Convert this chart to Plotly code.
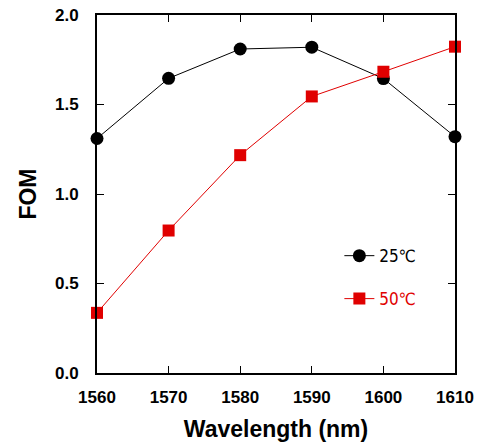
import plotly.graph_objects as go

wavelength = [1560, 1570, 1580, 1590, 1600, 1610]
fom_25 = [1.31, 1.646, 1.81, 1.82, 1.645, 1.32]
fom_50 = [0.336, 0.796, 1.217, 1.545, 1.683, 1.823]
x_ticks = [1560, 1570, 1580, 1590, 1600, 1610]
y_ticks = [0.0, 0.5, 1.0, 1.5, 2.0]
y_tick_labels = ["0.0", "0.5", "1.0", "1.5", "2.0"]

fig = go.Figure()
fig.add_trace(go.Scatter(
    x=wavelength, y=fom_25, mode="lines+markers", name="25℃",
    line=dict(color="black", width=1),
    marker=dict(symbol="circle", size=13, color="black"),
    legend="legend", cliponaxis=False,
))
fig.add_trace(go.Scatter(
    x=wavelength, y=fom_50, mode="lines+markers",
    name="50℃",
    line=dict(color="#e00000", width=1),
    marker=dict(symbol="square", size=12, color="#e00000"),
    legend="legend2", cliponaxis=False,
))

axis_common = dict(
    showline=True, linecolor="black", linewidth=2, mirror="ticks",
    ticks="inside", ticklen=7, tickwidth=1, tickcolor="black",
    showgrid=False, zeroline=False, ticklabeloverflow="allow",
    automargin=False,
    tickfont=dict(family="Liberation Sans", size=17, color="black", weight="bold"),
)

legend_font = "DejaVu Sans Condensed, Roboto, sans-serif"

fig.update_layout(
    width=481, height=443,
    margin=dict(l=97, r=26, t=15, b=70),
    paper_bgcolor="white", plot_bgcolor="white",
    xaxis=dict(range=[1560, 1610], tickvals=x_ticks, ticklabelstandoff=8,
               title=dict(text="<b>Wavelength (nm)</b>", standoff=14,
                          font=dict(family="Liberation Sans", size=23, color="black")),
               **axis_common),
    yaxis=dict(range=[0, 2.0], tickvals=y_ticks, ticktext=y_tick_labels,
               ticklabelstandoff=13,
               title=dict(text="<b>FOM</b>", standoff=12,
                          font=dict(family="Liberation Sans", size=23, color="black")),
               **axis_common),
    legend=dict(x=0.677, y=0.3265, xanchor="left", yanchor="middle",
                bgcolor="rgba(0,0,0,0)",
                font=dict(family=legend_font, size=17, color="black")),
    legend2=dict(x=0.677, y=0.2065, xanchor="left", yanchor="middle",
                 bgcolor="rgba(0,0,0,0)",
                 font=dict(family=legend_font, size=17, color="#e00000")),
    showlegend=True,
)

fig.write_html("out.html", config={"displayModeBar": False},
               post_script="document.body.style.margin='0px';document.body.style.overflow='hidden';")
